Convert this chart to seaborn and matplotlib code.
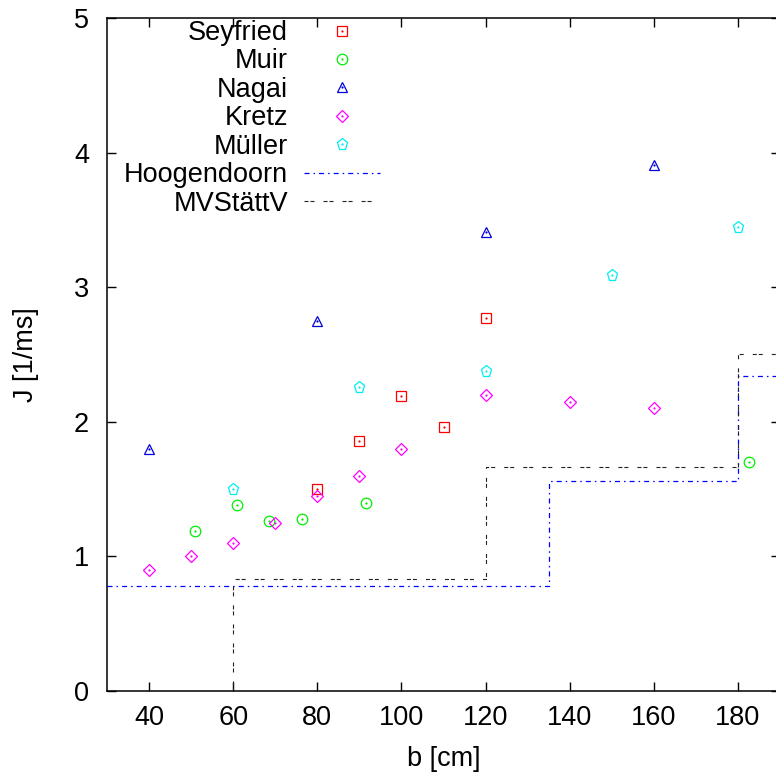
import seaborn as sns
import matplotlib.pyplot as plt
from matplotlib.legend_handler import HandlerTuple

# measured points, J [1/ms] over b [cm]
seyfried_b = [80, 90, 100, 110, 120]
seyfried_j = [1.50, 1.86, 2.19, 1.96, 2.77]
muir_b = [50.9, 61, 68.6, 76.3, 91.5, 182.7]
muir_j = [1.19, 1.38, 1.26, 1.28, 1.40, 1.70]
nagai_b = [40, 80, 120, 160]
nagai_j = [1.80, 2.75, 3.41, 3.91]
kretz_b = [40, 50, 60, 70, 80, 90, 100, 120, 140, 160]
kretz_j = [0.90, 1.00, 1.10, 1.25, 1.45, 1.60, 1.80, 2.20, 2.15, 2.10]
mueller_b = [60, 90, 120, 150, 180]
mueller_j = [1.50, 2.26, 2.38, 3.09, 3.45]

# design rules (step functions)
hoog_b = [30, 135, 180, 190]
hoog_j = [0.78, 1.56, 2.34, 2.34]
mv_b = [60, 60, 120, 180, 190]
mv_j = [0.0, 0.833, 1.667, 2.5, 2.5]

sns.set_style("ticks")
plt.rcParams["font.family"] = ["Liberation Sans", "DejaVu Sans"]
plt.rcParams["lines.scale_dashes"] = False
for k in ["text.color", "axes.labelcolor", "xtick.color", "ytick.color",
          "axes.edgecolor"]:
    plt.rcParams[k] = "black"
FS = 19.5

fig = plt.figure(figsize=(7.76, 7.80), dpi=100)
ax = fig.add_axes([107 / 776, 89 / 780, 673 / 776, 673 / 780])

series = [
    ("Seyfried", seyfried_b, seyfried_j, "s", "#ff0000", 7.6),
    ("Muir", muir_b, muir_j, "o", "#00ee00", 7.6),
    ("Nagai", nagai_b, nagai_j, "^", "#0000dd", 7.6),
    ("Kretz", kretz_b, kretz_j, "D", "#ff00ff", 6.0),
    ("Müller", mueller_b, mueller_j, "p", "#00eeee", 8.2),
]

handles, labels = [], []
for name, b, j, m, c, ms in series:
    sns.lineplot(x=b, y=j, ax=ax, estimator=None, sort=False, linestyle="",
                 marker=m, ms=ms, mfc="none", mec=c, mew=0.9, color=c)
    h1 = ax.lines[-1]
    # small dot in the middle of each symbol
    sns.lineplot(x=b, y=j, ax=ax, estimator=None, sort=False, linestyle="",
                 marker="o", ms=1.6, mfc=c, mec=c, mew=0, color=c)
    h2 = ax.lines[-1]
    handles.append((h1, h2))
    labels.append(name)

sns.lineplot(x=hoog_b, y=hoog_j, ax=ax, estimator=None, sort=False,
             drawstyle="steps-post", color="#0000ff", lw=0.9,
             linestyle=(0, (3.6, 2.9, 1.1, 2.9)))
handles.append(ax.lines[-1])
labels.append("Hoogendoorn")
sns.lineplot(x=mv_b, y=mv_j, ax=ax, estimator=None, sort=False,
             drawstyle="steps-post", color="#222222", lw=0.8,
             linestyle=(0, (2.9, 1.4, 2.9, 6.5)))
handles.append(ax.lines[-1])
labels.append("MVStättV")

ax.set_xlim(30, 190)
ax.set_ylim(0, 5)
ax.set_xticks(range(40, 181, 20))
ax.set_yticks(range(0, 6))
ax.tick_params(direction="in", top=True, right=True, length=6.5, width=1,
               labelsize=FS)
ax.tick_params(axis="x", pad=10)
ax.tick_params(axis="y", pad=13)
for sp in ax.spines.values():
    sp.set_linewidth(1.1)
    sp.set_visible(True)

ax.set_xlabel("b [cm]", fontsize=FS, labelpad=11)
ax.set_ylabel("J [1/ms]", fontsize=FS, labelpad=25)

ax.legend(handles, labels, handler_map={tuple: HandlerTuple(ndivide=1)},
          loc="upper right", bbox_to_anchor=(380 / 776, 1 - 20 / 780),
          bbox_transform=fig.transFigure, frameon=False, markerfirst=False,
          fontsize=FS, handlelength=2.8, handletextpad=0.6, labelspacing=0.09,
          borderpad=0, borderaxespad=0)

fig.savefig("out.png", dpi=100)
